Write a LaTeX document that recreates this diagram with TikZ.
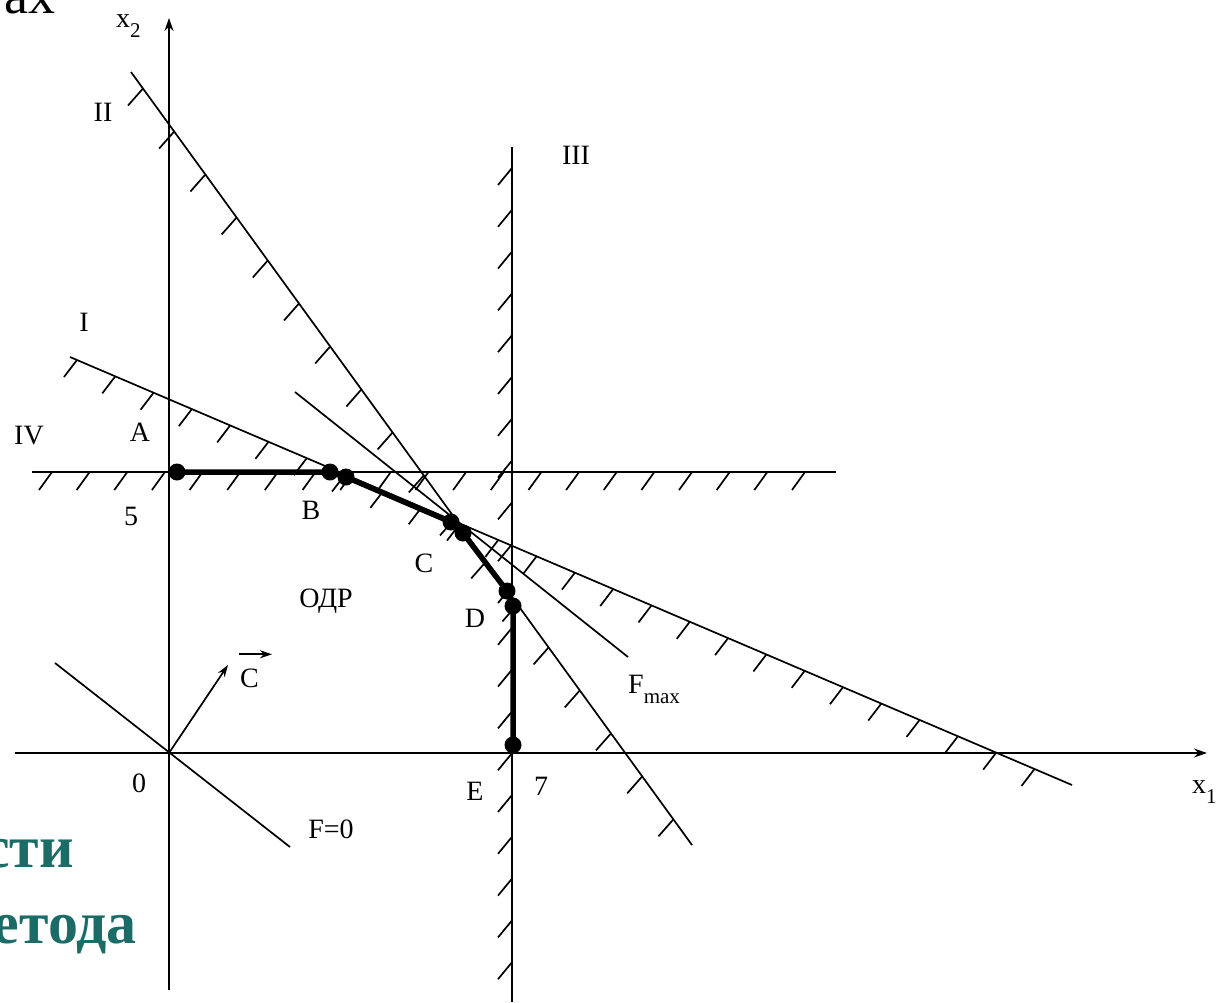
\documentclass[tikz,border=0pt]{standalone}
\usepackage{fontspec}
\setmainfont{Liberation Serif}
\usepackage{tikz}
\usetikzlibrary{arrows.meta,calc}
\definecolor{titlegreen}{HTML}{1B6B66}
\newcommand{\lowidx}[1]{\raisebox{-0.38em}{\fontsize{21}{21}\selectfont #1}}

\begin{document}
\begin{tikzpicture}[
  x=1pt,y=-1pt,
  font=\fontsize{28}{31}\selectfont,
  axis/.style={line width=1.8pt,-{Stealth[length=13pt,width=9pt]}},
  bound/.style={line width=1.7pt},
  hatch/.style={line width=1.7pt},
  odr/.style={line width=5.5pt,line join=round},
  vertex/.style={circle,fill=black,inner sep=0pt,minimum size=17pt},
  vec/.style={line width=1.7pt,-{Stealth[length=12pt,width=8pt]}},
  lbl/.style={inner sep=0pt},
  ttl/.style={text=titlegreen,inner sep=0pt,
              font=\bfseries\fontsize{60}{66}\selectfont}
]
\useasboundingbox (0,0) rectangle (1217,1002);
\clip (0,0) rectangle (1217,1002);

\coordinate (O) at (169,753);
\coordinate (ybot) at (169,990);
\coordinate (ytop) at (169,18);
\coordinate (xlft) at (15,753);
\coordinate (xrgt) at (1207,753);

\coordinate (i1) at (70,357);
\coordinate (i2) at (1072,785);
\coordinate (ii1) at (131,72);
\coordinate (ii2) at (692,845);
\coordinate (iii1) at (512,147);
\coordinate (iii2) at (512,1002);
\coordinate (iv1) at (32,472);
\coordinate (iv2) at (836,472);
\coordinate (fm1) at (295,392);
\coordinate (fm2) at (628,657);
\coordinate (fz1) at (55,663);
\coordinate (fz2) at (290,847);
\coordinate (ctip) at (228,665);

\draw[axis] (ybot) -- (ytop);
\draw[axis] (xlft) -- (xrgt);

\draw[bound] (i1) -- (i2);
\draw[bound] (ii1) -- (ii2);
\draw[bound] (iii1) -- (iii2);
\draw[bound] (iv1) -- (iv2);
\draw[bound] (fm1) -- (fm2);
\draw[bound] (fz1) -- (fz2);

\foreach \k in {0,...,25}
  \draw[hatch] ($(i1)!{(7+38.3*\k)/1002}!(i2)$) -- ++(-13,17);
\foreach \k in {0,...,17}
  \draw[hatch] ($(ii1)!{(12+31.2*\k)/561}!(ii2)$) -- ++(-15,17);
\foreach \k in {0,...,19}
  \draw[hatch] ($(iii1)!{(21+41.8*\k)/855}!(iii2)$) -- ++(-14,17);
\foreach \k in {0,...,20}
  \draw[hatch] ($(iv1)!{(20+37.65*\k)/804}!(iv2)$) -- ++(-13,18);

\draw[vec] (O) -- (ctip);

\node[vertex] (A) at (177,472) {};
\node[vertex] (B1) at (330,472) {};
\node[vertex] (B2) at (346,477) {};
\node[vertex] (C1) at (451,522) {};
\node[vertex] (C2) at (463,533) {};
\node[vertex] (D1) at (507,591) {};
\node[vertex] (D2) at (513,606) {};
\node[vertex] (E) at (513,745) {};
\draw[odr] (A.center) -- (B1.center) -- (B2.center) -- (C1.center)
  -- (C2.center) -- (D1.center) -- (D2.center) -- (E.center);

\node[lbl,anchor=base west] (lx2) at (116,27) {x\lowidx{2}};
\node[lbl,anchor=base west] (lx1) at (1192,793) {x\lowidx{1}};
\node[lbl] (lII) at (103,112) {II};
\node[lbl] (lIII) at (576,155) {III};
\node[lbl] (lI) at (84,322) {I};
\node[lbl] (lIV) at (29,436) {IV};
\node[lbl] (lA) at (140,432) {A};
\node[lbl] (l5) at (131,516) {5};
\node[lbl] (lB) at (311,510) {B};
\node[lbl] (lC) at (424,563) {C};
\node[lbl] (lD) at (475,618) {D};
\node[lbl] (lodr) at (326,601) {ОДР};
\node[lbl,anchor=base west] (lfmax) at (628,693) {F\lowidx{max}};
\node[lbl] (l0) at (139,783) {0};
\node[lbl] (lE) at (475,791) {E};
\node[lbl] (l7) at (541,786) {7};
\node[lbl] (lfz) at (331,829) {F=0};
\node[lbl,anchor=base west] (lcv) at (240,687) {C};
\draw[vec] ($(lcv.north west)+(-1,-14)$) -- ++(33,0);

\node[lbl,anchor=base east,font=\fontsize{54}{60}\selectfont] (ttl0) at (56,13) {ax};
\node[ttl,anchor=base east] (ttl1) at (74,867) {сти};
\node[ttl,anchor=base east] (ttl2) at (137,943) {етода};
\end{tikzpicture}
\end{document}
